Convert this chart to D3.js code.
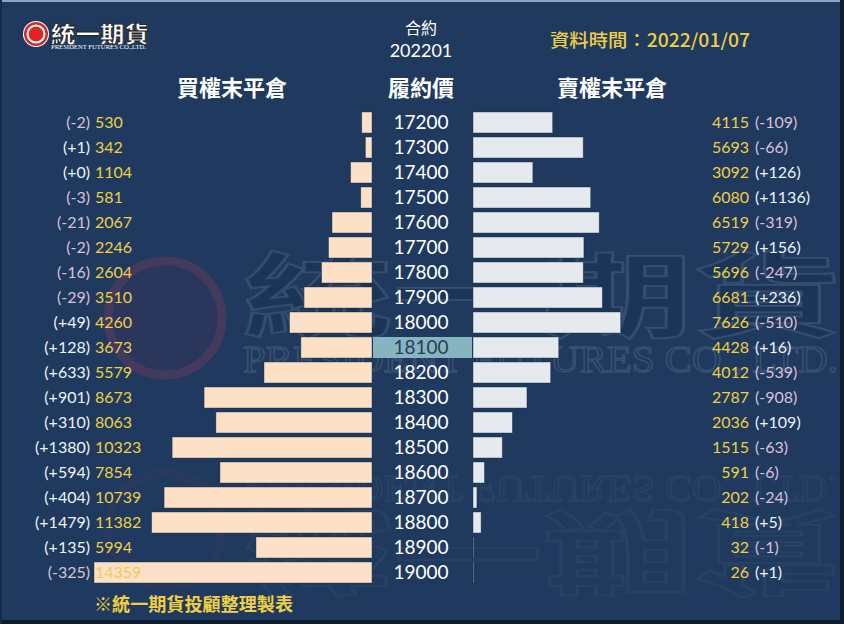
<!DOCTYPE html>
<html><head><meta charset="utf-8">
<script src="https://cdn.jsdelivr.net/npm/d3@7"></script>
<style>
html,body{margin:0;padding:0;background:#1f3a5e;}
svg{display:block;}
</style></head>
<body>
<script>
const strikes = [17200,17300,17400,17500,17600,17700,17800,17900,18000,18100,18200,18300,18400,18500,18600,18700,18800,18900,19000];
const callOI  = [530,342,1104,581,2067,2246,2604,3510,4260,3673,5579,8673,8063,10323,7854,10739,11382,5994,14359];
const callChg = [-2,1,0,-3,-21,-2,-16,-29,49,128,633,901,310,1380,594,404,1479,135,-325];
const putOI   = [4115,5693,3092,6080,6519,5729,5696,6681,7626,4428,4012,2787,2036,1515,591,202,418,32,26];
const putChg  = [-109,-66,126,1136,-319,156,-247,236,-510,16,-539,-908,109,-63,-6,-24,5,-1,1];
const atmStrike = 18100;
const contract = "202201";
const dataDate = "2022/01/07";

const W = 844, H = 624;
const BG = "#1f3a5e";
const YEL = "#f0cf45";
const CJK = "'Noto Sans CJK TC','Noto Sans CJK SC',sans-serif";
const NUM = "Lato,'Open Sans',sans-serif";

const svg = d3.select("body").append("svg").attr("width", W).attr("height", H);
svg.append("rect").attr("width", W).attr("height", H).attr("fill", BG);

// frame
svg.append("rect").attr("x",0).attr("y",0).attr("width",W).attr("height",2).attr("fill","#8ea3bd");
svg.append("rect").attr("x",W-4).attr("y",0).attr("width",4).attr("height",H).attr("fill","#0f1c2e");
svg.append("rect").attr("x",0).attr("y",H-4).attr("width",W).attr("height",4).attr("fill","#0f1c2e");
svg.append("rect").attr("x",0).attr("y",0).attr("width",2).attr("height",H).attr("fill","#162b47");

// watermark
const wm = svg.append("g").attr("pointer-events","none");
wm.append("circle").attr("cx",165).attr("cy",318).attr("r",52).attr("fill","#34335c").attr("opacity",0.6);
wm.append("circle").attr("cx",165).attr("cy",318).attr("r",57).attr("fill","none").attr("stroke","#5e3a5e").attr("stroke-width",9).attr("opacity",0.6);
wm.append("text").attr("x",243).attr("y",330).attr("font-family",CJK).attr("font-weight",700).attr("font-size",92)
  .attr("fill","#16304f").attr("fill-opacity",0.5).attr("stroke","#9fb0c8").attr("stroke-opacity",0.18).attr("stroke-width",2)
  .attr("textLength",600).attr("lengthAdjust","spacingAndGlyphs").text("統一期貨");
wm.append("text").attr("x",243).attr("y",372).attr("font-family","'Liberation Serif',serif").attr("font-size",38)
  .attr("fill","none").attr("stroke","#9fb0c8").attr("stroke-opacity",0.2).attr("stroke-width",1.5)
  .attr("textLength",595).attr("lengthAdjust","spacingAndGlyphs").text("PRESIDENT FUTURES CO., LTD.");
// reflection
const refl = wm.append("g").attr("transform","translate(0,848) scale(1,-1)").attr("opacity",0.4);
refl.append("circle").attr("cx",165).attr("cy",318).attr("r",57).attr("fill","none").attr("stroke","#5e3a5e").attr("stroke-width",9).attr("opacity",0.35);
refl.append("text").attr("x",243).attr("y",330).attr("font-family",CJK).attr("font-weight",700).attr("font-size",92)
  .attr("fill","none").attr("stroke","#9fb0c8").attr("stroke-opacity",0.18).attr("stroke-width",2)
  .attr("textLength",600).attr("lengthAdjust","spacingAndGlyphs").text("統一期貨");
refl.append("text").attr("x",243).attr("y",372).attr("font-family","'Liberation Serif',serif").attr("font-size",38)
  .attr("fill","none").attr("stroke","#9fb0c8").attr("stroke-opacity",0.2).attr("stroke-width",1.5)
  .attr("textLength",595).attr("lengthAdjust","spacingAndGlyphs").text("PRESIDENT FUTURES CO., LTD.");

// logo
const logo = svg.append("g");
logo.append("circle").attr("cx",36).attr("cy",34).attr("r",13).attr("fill","#ffffff");
logo.append("circle").attr("cx",36).attr("cy",34).attr("r",12).attr("fill","#d42a2a");
logo.append("circle").attr("cx",36).attr("cy",34).attr("r",8.5).attr("fill","none").attr("stroke","#ffffff").attr("stroke-width",2);
logo.append("circle").attr("cx",36).attr("cy",34).attr("r",4.5).attr("fill","#e82020");
logo.append("text").attr("x",51).attr("y",42).attr("font-family",CJK).attr("font-weight",900).attr("font-size",22)
  .attr("fill","#ffffff").attr("stroke","#222").attr("stroke-width",0.8).attr("textLength",98).attr("lengthAdjust","spacingAndGlyphs").text("統一期貨");
logo.append("text").attr("x",51).attr("y",49).attr("font-family","'Liberation Serif',serif").attr("font-size",6)
  .attr("fill","#ffffff").attr("textLength",95).attr("lengthAdjust","spacingAndGlyphs").text("PRESIDENT FUTURES CO.,LTD.");

// header
svg.append("text").attr("x",421).attr("y",34).attr("text-anchor","middle").attr("font-family",CJK).attr("font-size",16).attr("fill","#ffffff").text("合約");
svg.append("text").attr("x",421).attr("y",57).attr("text-anchor","middle").attr("font-family",NUM).attr("font-size",18).attr("fill","#ffffff").text(contract);
svg.append("text").attr("x",550).attr("y",47).attr("font-family",CJK).attr("font-weight",500).attr("font-size",18).attr("fill",YEL)
  .attr("textLength",200).attr("lengthAdjust","spacingAndGlyphs").text("資料時間：" + dataDate);
const titleY = 96;
[["買權末平倉",232],["履約價",421],["賣權末平倉",612]].forEach(([t,cx])=>{
  svg.append("text").attr("x",cx).attr("y",titleY).attr("text-anchor","middle").attr("font-family",CJK).attr("font-weight",700).attr("font-size",22).attr("fill","#ffffff").text(t);
});

// scales
const y = d3.scaleBand().domain(strikes).range([110, 585]).paddingInner(0.16).paddingOuter(0.08);
const x = d3.scaleLinear().domain([0, 14359]).range([0, 278]);
const leftEdge = 372, rightEdge = 473;

const rows = strikes.map((s,i)=>({s, c:callOI[i], cc:callChg[i], p:putOI[i], pc:putChg[i]}));

// ATM highlight
svg.append("rect").attr("x",leftEdge+1).attr("y",y(atmStrike)).attr("width",rightEdge-leftEdge-2).attr("height",y.bandwidth())
  .attr("fill","#86b4c0");

// call bars
svg.append("g").selectAll("rect").data(rows).join("rect")
  .attr("x",d=>leftEdge - x(d.c)).attr("y",d=>y(d.s)).attr("width",d=>x(d.c)).attr("height",y.bandwidth())
  .attr("fill","#fce1c6").attr("stroke","#16283f").attr("stroke-opacity",0.5).attr("stroke-width",0.8);
// put bars
svg.append("g").selectAll("rect").data(rows).join("rect")
  .attr("x",rightEdge).attr("y",d=>y(d.s)).attr("width",d=>x(d.p)).attr("height",y.bandwidth())
  .attr("fill","#e6e9ee").attr("stroke","#16283f").attr("stroke-opacity",0.5).attr("stroke-width",0.8);

const mid = d=> y(d.s) + y.bandwidth()/2;
const fmtChg = v => "(" + (v>=0?"+":"") + v + ")";
const chgColor = v => v<0 ? "#dcc0d8" : "#eef2f8";

// strike labels
svg.append("g").selectAll("text").data(rows).join("text")
  .attr("x",421).attr("y",mid).attr("dy","0.36em").attr("text-anchor","middle")
  .attr("font-family",NUM).attr("font-size",19)
  .attr("fill",d=>d.s===atmStrike?"#2b3f52":"#ffffff").text(d=>d.s);

// left labels
svg.append("g").selectAll("text").data(rows).join("text")
  .attr("x",90).attr("y",mid).attr("dy","0.36em").attr("text-anchor","end")
  .attr("font-family",NUM).attr("font-size",16).attr("fill",d=>chgColor(d.cc)).text(d=>fmtChg(d.cc));
svg.append("g").selectAll("text").data(rows).join("text")
  .attr("x",95).attr("y",mid).attr("dy","0.36em")
  .attr("font-family",NUM).attr("font-size",16).attr("fill",d=> (leftEdge - x(d.c) < 140) ? "#f4c85a" : YEL).text(d=>d.c);

// right labels
svg.append("g").selectAll("text").data(rows).join("text")
  .attr("x",749).attr("y",mid).attr("dy","0.36em").attr("text-anchor","end")
  .attr("font-family",NUM).attr("font-size",16).attr("fill",YEL).text(d=>d.p);
svg.append("g").selectAll("text").data(rows).join("text")
  .attr("x",755).attr("y",mid).attr("dy","0.36em")
  .attr("font-family",NUM).attr("font-size",16).attr("fill",d=>chgColor(d.pc)).text(d=>fmtChg(d.pc));

// footer
svg.append("text").attr("x",94).attr("y",611).attr("font-family",CJK).attr("font-weight",700).attr("font-size",18).attr("fill",YEL)
  .attr("textLength",199).attr("lengthAdjust","spacingAndGlyphs").text("※統一期貨投顧整理製表");
</script>
</body></html>
